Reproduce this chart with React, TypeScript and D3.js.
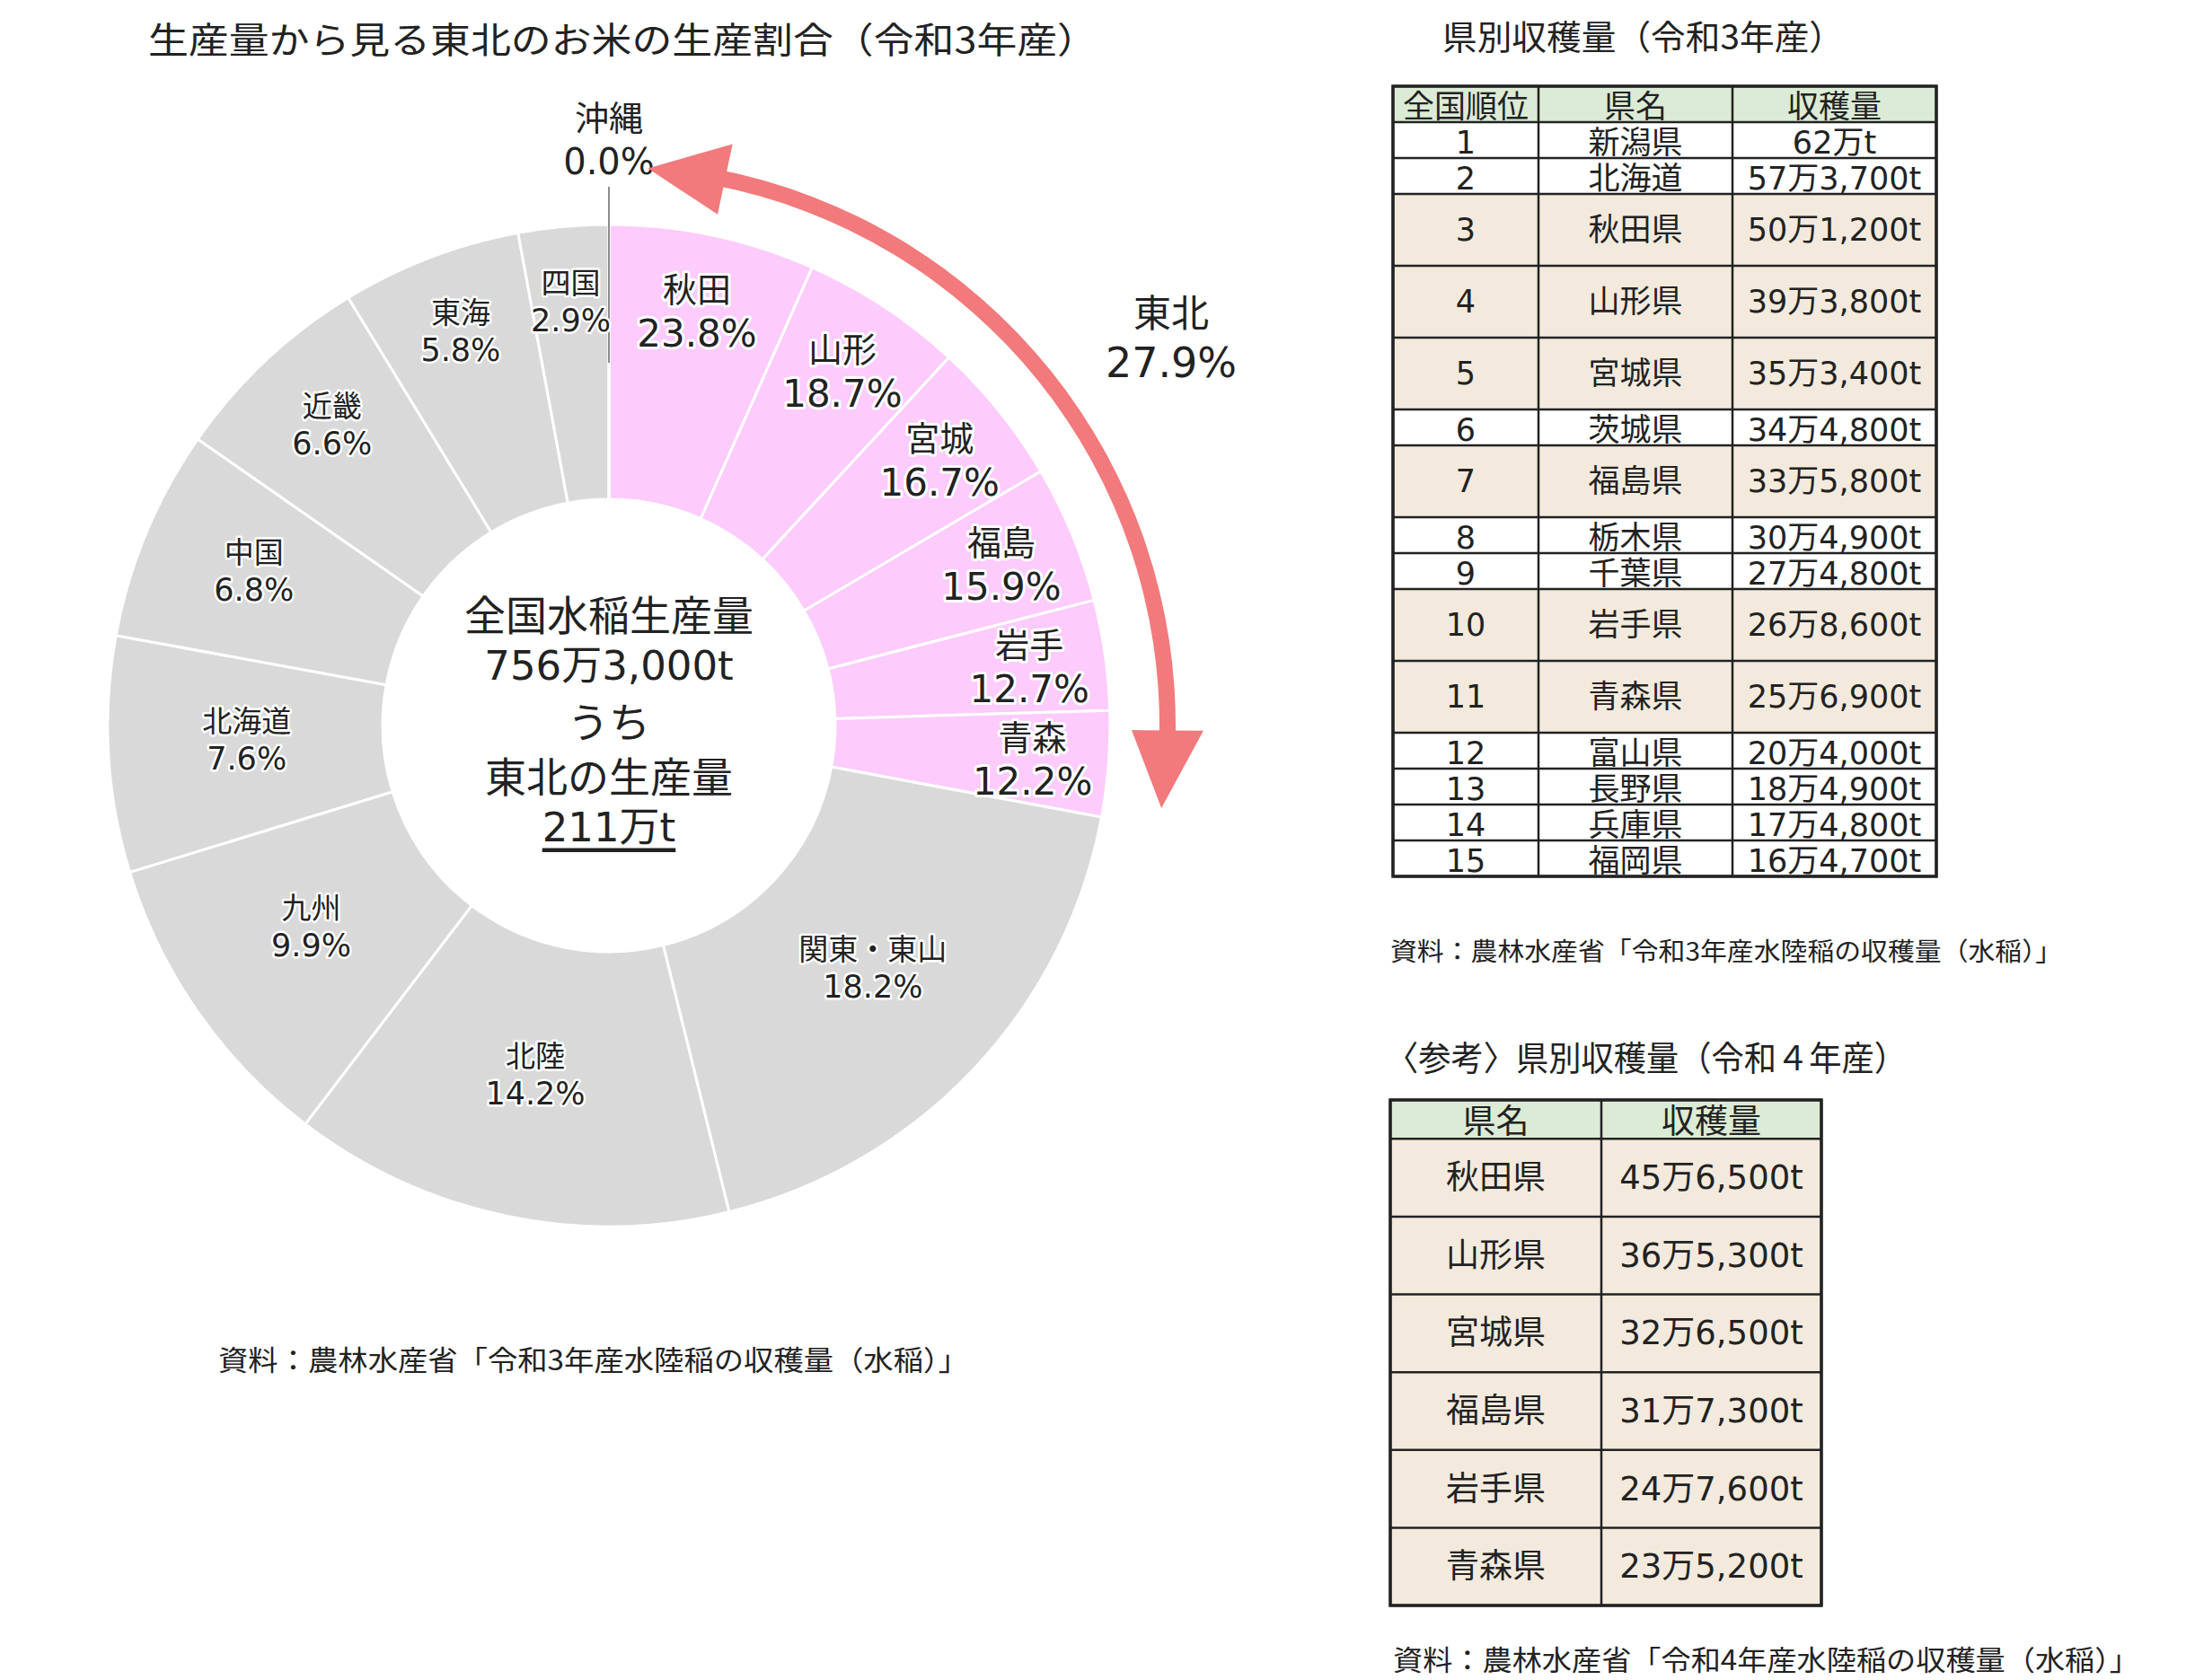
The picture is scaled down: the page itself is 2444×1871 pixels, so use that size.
import React from 'react';
import * as d3 from 'd3';

// ---- data ----
const chartTitle = '生産量から見る東北のお米の生産割合（令和3年産）';
const tohokuName = '東北';
const tohokuShare = 27.9;
const tohokuPrefs = ['秋田', '山形', '宮城', '福島', '岩手', '青森'];
const tohokuPrefShares = [23.8, 18.7, 16.7, 15.9, 12.7, 12.2];
const otherRegions = ['関東・東山', '北陸', '九州', '北海道', '中国', '近畿', '東海', '四国', '沖縄'];
const otherShares = [18.2, 14.2, 9.9, 7.6, 6.8, 6.6, 5.8, 2.9, 0.0];
const nationalTotal = 7563000;
const tohokuTotal = 2110000;

const table1Title = '県別収穫量（令和3年産）';
const table1Header = ['全国順位', '県名', '収穫量'];
const ranks2021 = [1, 2, 3, 4, 5, 6, 7, 8, 9, 10, 11, 12, 13, 14, 15];
const prefs2021 = ['新潟県', '北海道', '秋田県', '山形県', '宮城県', '茨城県', '福島県', '栃木県', '千葉県', '岩手県', '青森県', '富山県', '長野県', '兵庫県', '福岡県'];
const yields2021 = [620000, 573700, 501200, 393800, 353400, 344800, 335800, 304900, 274800, 268600, 256900, 204000, 184900, 174800, 164700];

const table2Title = '〈参考〉県別収穫量（令和４年産）';
const table2Header = ['県名', '収穫量'];
const prefs2022 = ['秋田県', '山形県', '宮城県', '福島県', '岩手県', '青森県'];
const yields2022 = [456500, 365300, 326500, 317300, 247600, 235200];

const source3 = '資料：農林水産省「令和3年産水陸稲の収穫量（水稲）」';
const source4 = '資料：農林水産省「令和4年産水陸稲の収穫量（水稲）」';

// ---- styles ----
const FONT = '"Noto Sans CJK JP", "Noto Sans", sans-serif';
const NUMFONT = '"DejaVu Sans", "Noto Sans CJK JP", sans-serif';
const PINK = '#fdcbfc';
const GRAY = '#d9d9d9';
const ARROW = '#f27a7c';
const GREEN = '#dcebd5';
const BEIGE = '#f3eadd';

const fmtMan = (v: number) => {
  const man = Math.floor(v / 10000);
  const rest = v % 10000;
  return `${man}万${rest ? d3.format(',')(rest) : ''}t`;
};

type Slice = { name: string; value: number; label: string; tohoku: boolean };

const slices: Slice[] = [
  ...tohokuPrefs.map((n, i) => ({
    name: n,
    value: (tohokuShare * tohokuPrefShares[i]) / 100,
    label: `${tohokuPrefShares[i].toFixed(1)}%`,
    tohoku: true,
  })),
  ...otherRegions.map((n, i) => ({
    name: n,
    value: otherShares[i],
    label: `${otherShares[i].toFixed(1)}%`,
    tohoku: false,
  })),
];

const W = 2444;
const H = 1871;
const cx = 678;
const cy = 808;
const rOuter = 558;
const rInner = 252;

const polar = (r: number, a: number): [number, number] => [cx + r * Math.sin(a), cy - r * Math.cos(a)];
const deg = (d: number) => (d * Math.PI) / 180;

const Donut: React.FC = () => {
  const pie = d3.pie<Slice>().sort(null).value((d) => d.value);
  const arcs = pie(slices);
  const arc = d3.arc<d3.PieArcDatum<Slice>>().innerRadius(rInner).outerRadius(rOuter);

  const okinawa = arcs[arcs.length - 1];
  const [lx0, ly0] = polar(404, okinawa.startAngle);
  const [lx1, ly1] = polar(600, okinawa.startAngle);

  // curved double arrow outside the tohoku part
  const R = 622;
  const hw = 40;
  const body = d3.arc()({ innerRadius: R - 9, outerRadius: R + 9, startAngle: deg(11), endAngle: deg(91.5) }) as string;
  const head = (tip: number, base: number) =>
    [polar(R, tip), polar(R - hw, base), polar(R + hw, base)].map((p) => p.join(',')).join(' ');

  return (
    <g>
      <g transform={`translate(${cx},${cy})`}>
        {arcs.map((a, i) => (
          <path key={i} d={arc(a) as string} fill={a.data.tohoku ? PINK : GRAY} stroke="#fff" strokeWidth={3} />
        ))}
      </g>
      <line x1={lx0} y1={ly0} x2={lx1} y2={ly1} stroke="#8c8c8c" strokeWidth={2} />

      {arcs.slice(0, arcs.length - 1).map((a, i) => {
        const mid = (a.startAngle + a.endAngle) / 2;
        const big = a.data.tohoku;
        // gray labels sit further out near the top of the ring
        const r = big ? 473 : 404 + 63 * Math.max(0, Math.cos(mid));
        const [x, y0] = polar(r, mid);
        const y = big ? y0 : y0 - 8;
        const gap = big ? 26 : 22;
        return (
          <g key={i} textAnchor="middle" fill="#222" stroke="#fff" strokeWidth={big ? 6 : 5}
            style={{ paintOrder: 'stroke' }} strokeLinejoin="round">
            <text x={x} y={y - gap} dominantBaseline="central" fontFamily={FONT} fontSize={big ? 38 : 33}>{a.data.name}</text>
            <text x={x} y={y + gap} dominantBaseline="central" fontFamily={NUMFONT} fontSize={big ? 42 : 35}>{a.data.label}</text>
          </g>
        );
      })}

      {/* okinawa label above the ring */}
      <g textAnchor="middle" fill="#222">
        <text x={polar(680, okinawa.startAngle)[0]} y={polar(680, okinawa.startAngle)[1]} dominantBaseline="central"
          fontFamily={FONT} fontSize={38}>
          {okinawa.data.name}
        </text>
        <text x={polar(628, okinawa.startAngle)[0]} y={polar(628, okinawa.startAngle)[1]} dominantBaseline="central"
          fontFamily={NUMFONT} fontSize={40}>
          {okinawa.data.label}
        </text>
      </g>

      <path d={body} transform={`translate(${cx},${cy})`} fill={ARROW} />
      <polygon points={head(deg(4), deg(12))} fill={ARROW} />
      <polygon points={head(deg(98.5), deg(90.5))} fill={ARROW} />

      <g textAnchor="middle" fill="#222">
        <text x={1304} y={345} dominantBaseline="central" fontFamily={FONT} fontSize={42}>{tohokuName}</text>
        <text x={1304} y={404} dominantBaseline="central" fontFamily={NUMFONT} fontSize={46}>{`${tohokuShare.toFixed(1)}%`}</text>
      </g>

      <circle cx={cx} cy={cy} r={rInner} fill="#fff" />
      <g textAnchor="middle" fill="#222" fontSize={46} fontFamily={FONT}>
        <text x={cx} y={682} dominantBaseline="central">全国水稲生産量</text>
        <text x={cx} y={741} dominantBaseline="central" fontFamily={NUMFONT} fontSize={45}>{fmtMan(nationalTotal)}</text>
        <text x={cx} y={801} dominantBaseline="central">うち</text>
        <text x={cx} y={862} dominantBaseline="central">{`${tohokuName}の生産量`}</text>
        <text x={cx} y={921} dominantBaseline="central" fontFamily={NUMFONT} fontSize={45} textDecoration="underline">
          {fmtMan(tohokuTotal)}
        </text>
      </g>
    </g>
  );
};

interface TableProps {
  header: string[];
  rows: string[][];
  tall: boolean[];
  cols: number[];
  top: number;
  bottom: number;
  fontSize: number;
  tallUnits: number;
}

const Table: React.FC<TableProps> = ({ header, rows, tall, cols, top, bottom, fontSize, tallUnits }) => {
  const units = [1, ...tall.map((t) => (t ? tallUnits : 1))];
  const cum = [0, ...d3.cumsum(units)];
  const y = d3.scaleLinear().domain([0, cum[cum.length - 1]]).range([top, bottom]);
  const all = [header, ...rows];
  return (
    <g fontFamily={NUMFONT} fontSize={fontSize} fill="#222" textAnchor="middle">
      {all.map((row, r) => {
        const y0 = y(cum[r]);
        const y1 = y(cum[r + 1]);
        const fill = r === 0 ? GREEN : tall[r - 1] ? BEIGE : '#fff';
        return (
          <g key={r}>
            <rect x={cols[0]} y={y0} width={cols[cols.length - 1] - cols[0]} height={y1 - y0} fill={fill} />
            {row.map((c, j) => (
              <text key={j} x={(cols[j] + cols[j + 1]) / 2} y={(y0 + y1) / 2 + (units[r] === 1 ? 3 : 0)} dominantBaseline="central">
                {c}
              </text>
            ))}
          </g>
        );
      })}
      {cum.map((u, i) => (
        <line key={`h${i}`} x1={cols[0]} x2={cols[cols.length - 1]} y1={y(u)} y2={y(u)} stroke="#222" strokeWidth={2.5} />
      ))}
      {cols.map((x, i) => (
        <line key={`v${i}`} x1={x} x2={x} y1={top} y2={bottom} stroke="#222" strokeWidth={2.5} />
      ))}
      <rect x={cols[0]} y={top} width={cols[cols.length - 1] - cols[0]} height={bottom - top} fill="none" stroke="#222" strokeWidth={3.5} />
    </g>
  );
};

const App: React.FC = () => {
  const tohokuSet = new Set(tohokuPrefs.map((p) => `${p}県`));
  const rows1 = prefs2021.map((p, i) => [String(ranks2021[i]), p, fmtMan(yields2021[i])]);
  const tall1 = prefs2021.map((p) => tohokuSet.has(p));
  const rows2 = prefs2022.map((p, i) => [p, fmtMan(yields2022[i])]);

  return (
    <svg width={W} height={H} viewBox={`0 0 ${W} ${H}`} style={{ position: 'absolute', left: 0, top: 0, background: '#fff' }}>
      <rect width={W} height={H} fill="#fff" />
      <text x={165} y={42} dominantBaseline="central" fontFamily={FONT} fontSize={40} fill="#222"
        textLength={1057} lengthAdjust="spacingAndGlyphs">{chartTitle}</text>

      <Donut />

      <text x={243} y={1512} dominantBaseline="central" fontFamily={FONT} fontSize={31} fill="#222"
        textLength={835} lengthAdjust="spacingAndGlyphs">{source3}</text>

      <text x={1606} y={38} dominantBaseline="central" fontFamily={FONT} fontSize={38} fill="#222"
        textLength={447} lengthAdjust="spacingAndGlyphs">{table1Title}</text>
      <Table header={table1Header} rows={rows1} tall={tall1} cols={[1551, 1713, 1929, 2156]} top={96} bottom={976}
        fontSize={35} tallUnits={2} />
      <text x={1548} y={1058} dominantBaseline="central" fontFamily={FONT} fontSize={28} fill="#222"
        textLength={748} lengthAdjust="spacingAndGlyphs">{source3}</text>

      <text x={1543} y={1175} dominantBaseline="central" fontFamily={FONT} fontSize={38} fill="#222"
        textLength={580} lengthAdjust="spacingAndGlyphs">{table2Title}</text>
      <Table header={table2Header} rows={rows2} tall={prefs2022.map(() => true)} cols={[1548, 1783, 2028]} top={1225}
        bottom={1788} fontSize={37} tallUnits={2} />
      <text x={1551} y={1846} dominantBaseline="central" fontFamily={FONT} fontSize={31} fill="#222"
        textLength={831} lengthAdjust="spacingAndGlyphs">{source4}</text>
    </svg>
  );
};

export default App;
